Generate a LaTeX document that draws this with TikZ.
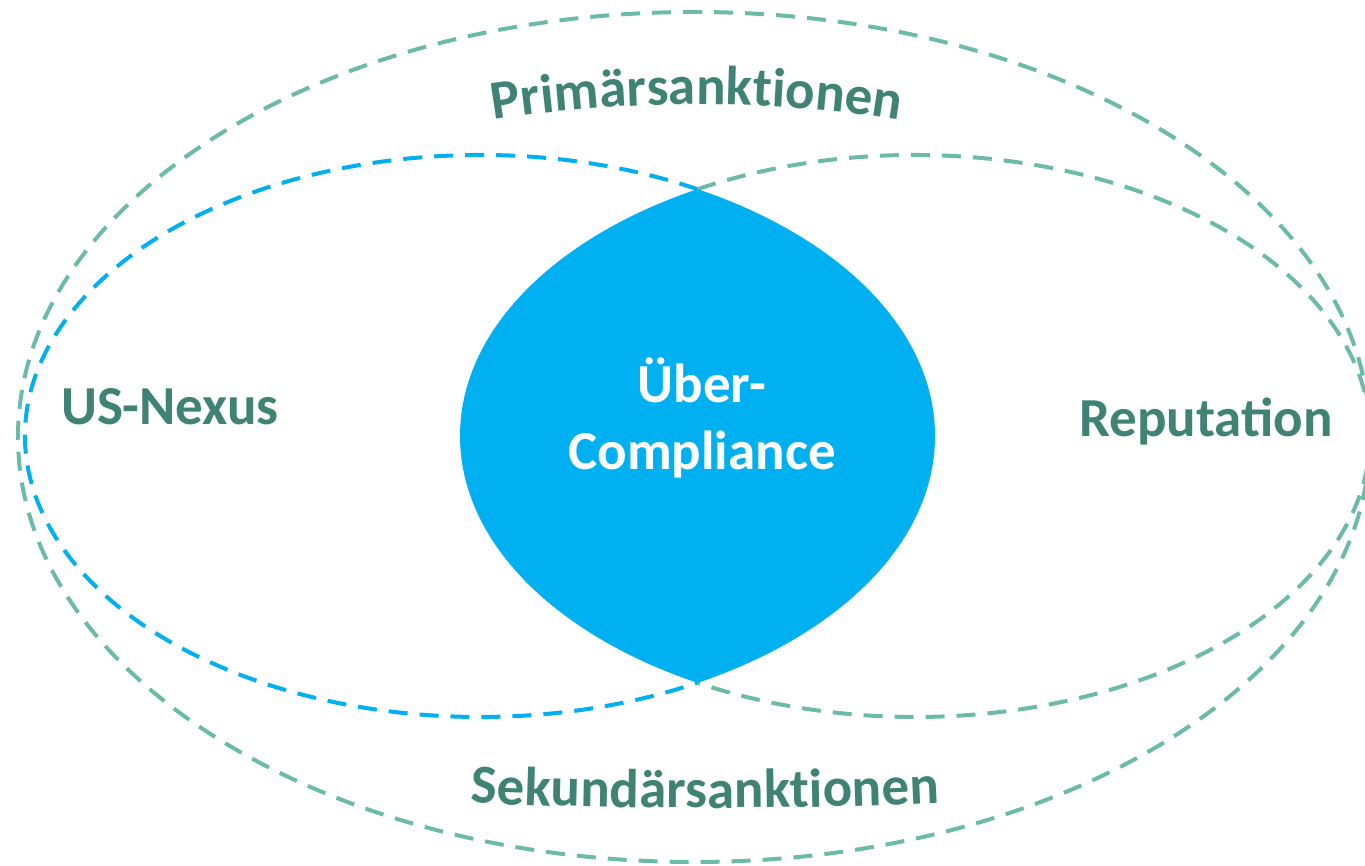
\documentclass[tikz,border=0pt]{standalone}
\usepackage{fontspec}
\setmainfont{Carlito}
\usetikzlibrary{decorations.text}
\definecolor{lensblue}{HTML}{00B0F0}
\definecolor{lineteal}{HTML}{6BBBA8}
\definecolor{txtteal}{HTML}{3F8374}
\newcommand{\lblfont}{\fontsize{55}{60}\selectfont\bfseries}
\begin{document}
\begin{tikzpicture}[x=1pt,y=1pt,
  dashline/.style={line width=4pt, dash pattern=on 19pt off 12pt},
  lbl/.style={font=\lblfont, text=txtteal, anchor=base, inner sep=0pt}]
\useasboundingbox (0,0) rectangle (1365,866);
\coordinate (outerc) at (694,429);
\coordinate (leftc) at (480,430);
\coordinate (rightc) at (915,430);
\draw[dashline, lineteal] (outerc) ellipse [x radius=676, y radius=425];
% left ellipse, without the arc that bounds the lens
\draw[dashline, lensblue] ([shift={(61.44:455 and 281)}]leftc)
  arc[start angle=61.44, end angle=298.56, x radius=455, y radius=281];
% right ellipse, without the arc that bounds the lens
\draw[dashline, lineteal] ([shift={(118.56:455 and 281)}]rightc)
  arc[start angle=118.56, end angle=-118.56, x radius=455, y radius=281];
\begin{scope}
  \clip (leftc) ellipse [x radius=455, y radius=281];
  \fill[lensblue] (rightc) ellipse [x radius=455, y radius=281];
\end{scope}
\node[lbl] (nexus) at (170,441) {US-Nexus};
\node[lbl] (rep) at (1206,429) {Reputation};
\node[lbl, text=white] (ueber) at (702,463) {Über-};
\node[lbl, text=white] (compl) at (702,396) {Compliance};
\path[decorate, decoration={text along path, text align=center,
  text={|\lblfont\color{txtteal}|Primärsanktionen}}]
  (467,741) .. controls (602,768) and (792,768) .. (927,741);
\path[decorate, decoration={text along path, text align=center,
  text={|\lblfont\color{txtteal}|Sekundärsanktionen}}]
  (455,64) .. controls (600,56) and (810,56) .. (955,64);
\end{tikzpicture}
\end{document}
